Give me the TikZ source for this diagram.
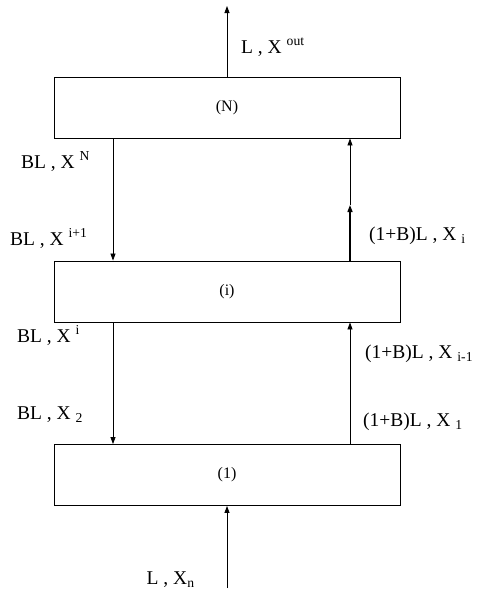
\documentclass[tikz,border=0pt]{standalone}
\usepackage{fontspec}
\setmainfont{Liberation Serif}
\usetikzlibrary{arrows.meta}
\begin{document}
\begin{tikzpicture}[x=1pt,y=-1pt,
  stage/.style={draw, line width=0.9pt, minimum width=346pt, minimum height=61pt, inner sep=0pt,
    font=\fontsize{16}{18}\selectfont},
  arr/.style={line width=0.8pt, -{Triangle[length=7pt,width=5pt]}},
  lab/.style={anchor=base west, inner sep=0pt, font=\fontsize{19.5}{22}\selectfont}]
\useasboundingbox (0,0) rectangle (478,592);
\node[stage] (N) at (227,107.5) {(N)};
\node[stage] (I) at (227,291.5) {(i)};
\node[stage] (O) at (227,475) {(1)};
\coordinate (top) at (227,6);
\coordinate (bot) at (227,588);
\coordinate (lx) at (113,0);
\coordinate (rx) at (350,0);
\coordinate (mid) at (350,205);
% vertical connectors
\draw[arr] (N.north) -- (top);
\draw[arr] (bot) -- (O.south);
\draw[arr] (N.south -| lx) -- (I.north -| lx);
\draw[arr] (I.south -| lx) -- (O.north -| lx);
\draw[arr, line width=1.3pt] (I.north -| rx) -- (mid);
\draw[arr] (mid) -- (N.south -| rx);
\draw[arr] (O.north -| rx) -- (I.south -| rx);
% labels
\node[lab] (lout) at (241,53) {L , X \textsuperscript{out}};
\node[lab] (lN) at (21,168) {BL , X \textsuperscript{N}};
\node[lab] (lip1) at (10,245.5) {BL , X \textsuperscript{i+1}};
\node[lab] (lXi) at (369,240.5) {(1+B)L , X \textsubscript{i}};
\node[lab] (li) at (17,342.5) {BL , X \textsuperscript{i}};
\node[lab] (lim1) at (365,358) {(1+B)L , X \textsubscript{i-1}};
\node[lab] (l2) at (17,419) {BL , X \textsubscript{2}};
\node[lab] (l1) at (363,426.5) {(1+B)L , X \textsubscript{1}};
\node[lab] (ln) at (146.5,584) {L , X\textsubscript{n}};
\end{tikzpicture}
\end{document}
